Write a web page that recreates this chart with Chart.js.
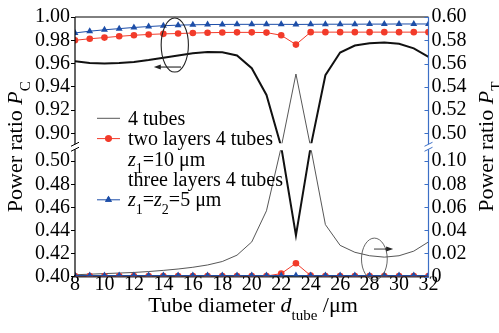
<!DOCTYPE html>
<html>
<head>
<meta charset="utf-8">
<script src="https://cdn.jsdelivr.net/npm/chart.js@4.4.1/dist/chart.umd.min.js"></script>
<style>
  html, body { margin: 0; padding: 0; background: #fff; }
  #wrap { width: 499px; height: 333px; }
  .probe { position: absolute; left: -999px; top: 0; font-size: 20px; }
</style>
</head>
<body>
<div id="wrap"><canvas id="chart" width="499" height="333"></canvas></div>
<div class="probe" style="font-family: 'Liberation Serif'">0.98 <i>P</i></div>
<script>
// tube diameter (um)
const diameters = [8, 9, 10, 11, 12, 13, 14, 15, 16, 17, 18, 19, 20, 21, 22, 23, 24, 25, 26, 27, 28, 29, 30, 31, 32];

// 4 tubes
const pc4 = [0.962, 0.9605, 0.960, 0.9605, 0.9614, 0.963, 0.965, 0.967, 0.9688, 0.970, 0.9697, 0.967, 0.956,
             0.933, 0.70, 0.4357, 0.71, 0.950, 0.9695, 0.9755, 0.9775, 0.978, 0.977, 0.973, 0.9657];
const pt4 = [0.0015, 0.002, 0.0025, 0.003, 0.0035, 0.0043, 0.0053, 0.0065, 0.008, 0.010, 0.013, 0.0185, 0.030,
             0.057, 0.28, 0.551, 0.27, 0.045, 0.027, 0.021, 0.018, 0.0168, 0.018, 0.022, 0.030];

// two layers 4 tubes, z1 = 10 um
const pcTwo = [0.980, 0.9813, 0.9823, 0.9834, 0.9843, 0.985, 0.9855, 0.9858, 0.9862, 0.9865, 0.9867, 0.9868, 0.9868,
               0.9866, 0.9843, 0.9763, 0.987, 0.987, 0.987, 0.987, 0.987, 0.987, 0.987, 0.987, 0.987];
const ptTwo = [0.0003, 0.0003, 0.0003, 0.0003, 0.0003, 0.0003, 0.0003, 0.0003, 0.0003, 0.0003, 0.0003, 0.0003, 0.0003,
               0.0004, 0.0025, 0.0115, 0.0008, 0.0003, 0.0003, 0.0003, 0.0003, 0.0003, 0.0003, 0.0003, 0.0003];

// three layers 4 tubes, z1 = z2 = 5 um
const pcThree = [0.9863, 0.9878, 0.989, 0.990, 0.991, 0.9918, 0.9925, 0.993, 0.9933, 0.9935, 0.9936, 0.9937, 0.9937,
                 0.9937, 0.9937, 0.9936, 0.9937, 0.9938, 0.9938, 0.9938, 0.9939, 0.9939, 0.994, 0.994, 0.994];
const ptThree = [0.0008, 0.0008, 0.0008, 0.0008, 0.0008, 0.0008, 0.0008, 0.0008, 0.0008, 0.0008, 0.0008, 0.0008, 0.0008,
                 0.0008, 0.0008, 0.0008, 0.0008, 0.0008, 0.0008, 0.0008, 0.0008, 0.0008, 0.0008, 0.0008, 0.0008];

const leftTicks = [0.40, 0.42, 0.44, 0.46, 0.48, 0.50, 0.90, 0.92, 0.94, 0.96, 0.98, 1.00];
const rightTicks = [0, 0.02, 0.04, 0.06, 0.08, 0.10, 0.50, 0.52, 0.54, 0.56, 0.58, 0.60];

const RED = '#f23b2a';
const BLUE = '#1d4ea8';
const AXIS_BLUE = '#3c6fc6';
const FONT = "'Liberation Serif', 'DejaVu Serif', serif";

const pts = (ys) => diameters.map((d, i) => ({x: d, y: ys[i]}));

// linear scale with a gap: values between breakLow and breakHigh are squeezed into gapSize pixels
class BrokenScale extends Chart.LinearScale {
    panels() {
        const gap = this.options.gapSize;
        const h = (this.bottom - this.top - gap) / 2;
        return {h, gapTop: this.top + h, gapBottom: this.top + h + gap};
    }
    getPixelForValue(value) {
        if (value === null || isNaN(value)) return NaN;
        const lo = this.options.breakLow, hi = this.options.breakHigh;
        const {h, gapTop, gapBottom} = this.panels();
        if (value <= lo) return this.bottom - (value - this.min) / (lo - this.min) * h;
        if (value >= hi) return this.top + (this.max - value) / (this.max - hi) * h;
        return gapBottom - (value - lo) / (hi - lo) * (gapBottom - gapTop);
    }
    getValueForPixel(pixel) {
        const lo = this.options.breakLow, hi = this.options.breakHigh;
        const {h, gapTop, gapBottom} = this.panels();
        if (pixel >= gapBottom) return this.min + (this.bottom - pixel) / h * (lo - this.min);
        if (pixel <= gapTop) return this.max - (pixel - this.top) / h * (this.max - hi);
        return lo + (gapBottom - pixel) / (gapBottom - gapTop) * (hi - lo);
    }
}
BrokenScale.id = 'broken';
BrokenScale.defaults = {};
Chart.register(BrokenScale);

function fontOf(run, size) {
    const s = run.sub ? Math.round(size * 0.68) : size;
    return (run.i ? 'italic ' : '') + s + 'px ' + FONT;
}

// text made of runs: {t, i (italic), sub (subscript)}
function drawRich(ctx, runs, x, y, size, align) {
    const widths = runs.map(r => { ctx.font = fontOf(r, size); return ctx.measureText(r.t).width; });
    const total = widths.reduce((a, b) => a + b, 0);
    let cx = align === 'center' ? x - total / 2 : x;
    ctx.textAlign = 'left';
    ctx.textBaseline = 'alphabetic';
    runs.forEach((r, k) => {
        ctx.font = fontOf(r, size);
        ctx.fillText(r.t, cx, y + (r.sub ? size * 0.36 : 0));
        cx += widths[k];
    });
}

function arrow(ctx, x0, x1, y) {
    const dir = Math.sign(x1 - x0);
    ctx.beginPath();
    ctx.moveTo(x0, y);
    ctx.lineTo(x1 - dir * 5, y);
    ctx.stroke();
    ctx.beginPath();
    ctx.moveTo(x1, y);
    ctx.lineTo(x1 - dir * 7, y - 2.5);
    ctx.lineTo(x1 - dir * 7, y + 2.5);
    ctx.closePath();
    ctx.fill();
}

function ellipse(ctx, x0, x1, y0, y1) {
    ctx.beginPath();
    ctx.ellipse((x0 + x1) / 2, (y0 + y1) / 2, Math.abs(x1 - x0) / 2, Math.abs(y1 - y0) / 2, 0, 0, Math.PI * 2);
    ctx.stroke();
}

// keep the lines out of the axis break
const panelClip = {
    id: 'panelClip',
    beforeDatasetsDraw(chart) {
        const {ctx, chartArea: a} = chart;
        const {gapTop, gapBottom} = chart.scales.yL.panels();
        ctx.save();
        ctx.beginPath();
        ctx.rect(a.left, a.top - 8, a.right - a.left, gapTop - a.top + 8);
        ctx.rect(a.left, gapBottom, a.right - a.left, a.bottom - gapBottom);
        ctx.clip();
    },
    afterDatasetsDraw(chart) {
        chart.ctx.restore();
    }
};

const decorations = {
    id: 'decorations',
    afterDraw(chart) {
        const {ctx, chartArea: a, scales} = chart;
        const {x, yL, yR} = scales;
        const {gapTop, gapBottom} = yL.panels();
        ctx.save();

        // top frame
        ctx.strokeStyle = '#000';
        ctx.lineWidth = 1;
        ctx.beginPath();
        ctx.moveTo(a.left, a.top);
        ctx.lineTo(a.right, a.top);
        ctx.stroke();

        // broken left and right axes
        const brokenAxis = (xp, color) => {
            ctx.strokeStyle = color;
            ctx.lineWidth = 1.2;
            ctx.beginPath();
            ctx.moveTo(xp, a.top);
            ctx.lineTo(xp, gapTop + 1);
            ctx.moveTo(xp, gapBottom - 1);
            ctx.lineTo(xp, a.bottom);
            ctx.stroke();
            ctx.lineWidth = 1;
            ctx.beginPath();
            ctx.moveTo(xp - 4, gapTop + 3);
            ctx.lineTo(xp + 4, gapTop - 1);
            ctx.moveTo(xp - 4, gapBottom + 1);
            ctx.lineTo(xp + 4, gapBottom - 3);
            ctx.stroke();
        };
        brokenAxis(a.left, '#000');
        brokenAxis(a.right, AXIS_BLUE);

        // right ticks point inwards
        ctx.strokeStyle = AXIS_BLUE;
        ctx.lineWidth = 1.2;
        ctx.beginPath();
        yR.ticks.forEach(t => {
            const yp = Math.round(yR.getPixelForValue(t.value)) + 0.5;
            ctx.moveTo(a.right - 4, yp);
            ctx.lineTo(a.right, yp);
        });
        ctx.stroke();

        // legend
        ctx.fillStyle = '#000';
        const lx0 = 97, lx1 = 120, tx = 128;
        const rows = [118.3, 138.6, 158.9, 179.4, 199.8];
        ctx.strokeStyle = '#444';
        ctx.lineWidth = 0.9;
        ctx.beginPath(); ctx.moveTo(lx0, rows[0]); ctx.lineTo(lx1, rows[0]); ctx.stroke();
        ctx.strokeStyle = RED; ctx.fillStyle = RED; ctx.lineWidth = 1;
        ctx.beginPath(); ctx.moveTo(lx0, rows[1]); ctx.lineTo(lx1, rows[1]); ctx.stroke();
        Chart.helpers.drawPoint(ctx, {pointStyle: 'circle', radius: 3.3, borderWidth: 0}, (lx0 + lx1) / 2, rows[1]);
        ctx.fill();
        ctx.strokeStyle = BLUE; ctx.fillStyle = BLUE;
        ctx.beginPath(); ctx.moveTo(lx0, rows[4]); ctx.lineTo(lx1, rows[4]); ctx.stroke();
        Chart.helpers.drawPoint(ctx, {pointStyle: 'triangle', radius: 4, borderWidth: 0}, (lx0 + lx1) / 2, rows[4]);
        ctx.fill();

        ctx.fillStyle = '#000';
        const size = 20, base = 6.6;
        drawRich(ctx, [{t: '4 tubes'}], tx, rows[0] + base, size);
        drawRich(ctx, [{t: 'two layers 4 tubes'}], tx, rows[1] + base, size);
        drawRich(ctx, [{t: 'z', i: true}, {t: '1', sub: true}, {t: '=10 \u03bcm'}], tx, rows[2] + base, size);
        drawRich(ctx, [{t: 'three layers 4 tubes'}], tx, rows[3] + base, size);
        drawRich(ctx, [{t: 'z', i: true}, {t: '1', sub: true}, {t: '='}, {t: 'z', i: true}, {t: '2', sub: true},
                       {t: '=5 \u03bcm'}], tx, rows[4] + base, size);

        // ellipses with arrows marking which axis each curve uses
        ctx.strokeStyle = '#222';
        ctx.fillStyle = '#222';
        ctx.lineWidth = 1.1;
        ellipse(ctx, x.getPixelForValue(13.85), x.getPixelForValue(15.7),
                yL.getPixelForValue(0.9991), yL.getPixelForValue(0.9527));
        arrow(ctx, x.getPixelForValue(15.2), x.getPixelForValue(13.35), yL.getPixelForValue(0.957));
        ctx.strokeStyle = '#555';
        ctx.lineWidth = 0.9;
        ellipse(ctx, x.getPixelForValue(27.45), x.getPixelForValue(29.2),
                yR.getPixelForValue(0.0333), yR.getPixelForValue(-0.003));
        ctx.strokeStyle = '#222';
        arrow(ctx, x.getPixelForValue(28.3), x.getPixelForValue(29.6), yR.getPixelForValue(0.0238));

        // axis titles
        ctx.fillStyle = '#000';
        const midY = (a.top + a.bottom) / 2;
        const titleSize = 22;
        ctx.save();
        ctx.translate(0, midY);
        ctx.rotate(-Math.PI / 2);
        drawRich(ctx, [{t: 'Power ratio '}, {t: 'P', i: true}, {t: 'C', sub: true}], 0, 21.7, titleSize, 'center');
        ctx.restore();
        ctx.save();
        ctx.translate(0, midY);
        ctx.rotate(-Math.PI / 2);
        drawRich(ctx, [{t: 'Power ratio '}, {t: 'P', i: true}, {t: 'T', sub: true}], 0, 493, titleSize, 'center');
        ctx.restore();
        drawRich(ctx, [{t: 'Tube diameter '}, {t: 'd', i: true}, {t: 'tube', sub: true}, {t: ' /\u03bcm'}],
                 253, 312, titleSize, 'center');

        ctx.restore();
    }
};

Chart.defaults.color = '#000';
Chart.defaults.font.family = FONT;
Chart.defaults.font.size = 20;

function build() {
    new Chart(document.getElementById('chart'), {
        type: 'line',
        data: {
            datasets: [
                {
                    label: 'three layers 4 tubes P_C', data: pts(pcThree), yAxisID: 'yL',
                    borderColor: BLUE, backgroundColor: BLUE, borderWidth: 1,
                    pointStyle: 'triangle', pointRadius: 4, pointBorderWidth: 0
                },
                {
                    label: 'three layers 4 tubes P_T', data: pts(ptThree), yAxisID: 'yR',
                    borderColor: BLUE, backgroundColor: BLUE, borderWidth: 1,
                    pointStyle: 'triangle', pointRadius: 4, pointBorderWidth: 0
                },
                {
                    label: 'two layers 4 tubes P_C', data: pts(pcTwo), yAxisID: 'yL',
                    borderColor: RED, backgroundColor: RED, borderWidth: 1,
                    pointStyle: 'circle', pointRadius: 3.3, pointBorderWidth: 0
                },
                {
                    label: 'two layers 4 tubes P_T', data: pts(ptTwo), yAxisID: 'yR',
                    borderColor: RED, backgroundColor: RED, borderWidth: 1,
                    pointStyle: 'circle', pointRadius: 3.3, pointBorderWidth: 0
                },
                {
                    label: '4 tubes P_C', data: pts(pc4), yAxisID: 'yL',
                    borderColor: '#111', borderWidth: 2, pointRadius: 0
                },
                {
                    label: '4 tubes P_T', data: pts(pt4), yAxisID: 'yR',
                    borderColor: '#444', borderWidth: 0.9, pointRadius: 0
                }
            ]
        },
        options: {
            responsive: false,
            animation: false,
            events: [],
            layout: {padding: {top: 17, left: 0, right: 0, bottom: 0}},
            plugins: {legend: {display: false}, tooltip: {enabled: false}},
            elements: {line: {tension: 0}},
            scales: {
                x: {
                    type: 'linear', position: 'bottom', min: 8, max: 32, z: 1,
                    ticks: {stepSize: 2, autoSkip: false, maxRotation: 0, padding: -4},
                    grid: {drawOnChartArea: false, drawTicks: false},
                    border: {color: '#333', width: 2.5},
                    afterFit: (s) => { s.height = 56.5; }
                },
                yL: {
                    type: 'broken', position: 'left', min: 0.40, max: 1.00,
                    breakLow: 0.5095, breakHigh: 0.8915, gapSize: 7,
                    afterBuildTicks: (s) => { s.ticks = leftTicks.map(v => ({value: v})); },
                    ticks: {autoSkip: false, padding: 1, callback: (v) => v.toFixed(2)},
                    grid: {drawOnChartArea: false, tickLength: 4, color: '#000', lineWidth: 1},
                    border: {display: false},
                    afterFit: (s) => { s.width = 75; }
                },
                yR: {
                    type: 'broken', position: 'right', min: 0, max: 0.60,
                    breakLow: 0.1095, breakHigh: 0.4915, gapSize: 7,
                    afterBuildTicks: (s) => { s.ticks = rightTicks.map(v => ({value: v})); },
                    ticks: {autoSkip: false, padding: 3, callback: (v) => v === 0 ? '0' : v.toFixed(2)},
                    grid: {drawOnChartArea: false, drawTicks: false},
                    border: {display: false},
                    afterFit: (s) => { s.width = 70.5; }
                }
            }
        },
        plugins: [panelClip, decorations]
    });
}

Promise.all([
    document.fonts.load("20px 'Liberation Serif'"),
    document.fonts.load("italic 20px 'Liberation Serif'")
]).catch(() => null).then(build);
</script>
</body>
</html>
